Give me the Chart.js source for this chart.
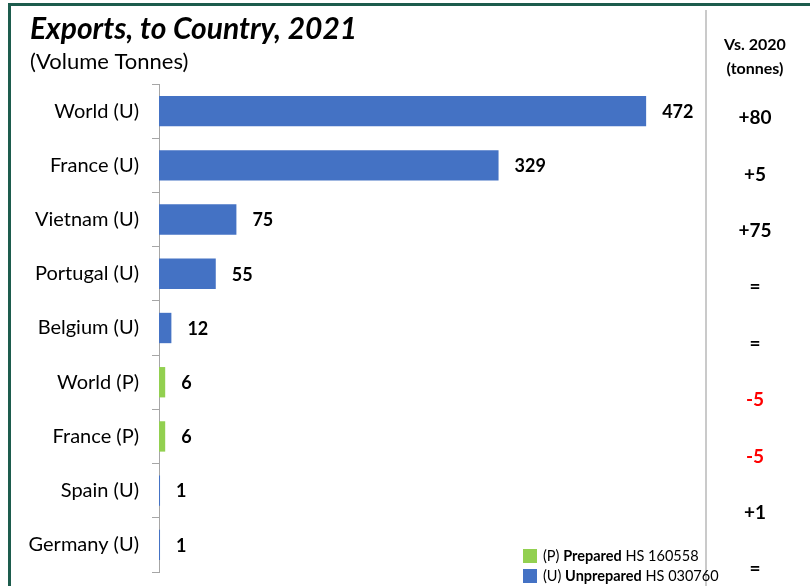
<!DOCTYPE html>
<html>
<head>
<meta charset="utf-8">
<script src="https://cdn.jsdelivr.net/npm/chart.js@4/dist/chart.umd.min.js"></script>
<style>
  html, body { margin: 0; padding: 0; background: #fff; overflow: hidden; }
  canvas { display: block; }
</style>
</head>
<body>
<canvas id="graphCanvas" width="810" height="586"></canvas>
<script>
var countries = ["World (U)", "France (U)", "Vietnam (U)", "Portugal (U)", "Belgium (U)",
                 "World (P)", "France (P)", "Spain (U)", "Germany (U)"];
var volumes = [472, 329, 75, 55, 12, 6, 6, 1, 1];
var kinds = ["U", "U", "U", "U", "U", "P", "P", "U", "U"];
var vs2020 = ["+80", "+5", "+75", "=", "=", "-5", "-5", "+1", "="];

var BLUE = "#4472C4";
var GREEN = "#92D050";
var FONT = "Lato, 'Open Sans', sans-serif";

var barColors = [];
for (var i in kinds) {
  barColors.push(kinds[i] == "P" ? GREEN : BLUE);
}

// frame, title, value labels, right column and legend
var decorations = {
  id: "decorations",
  afterDatasetsDraw: function(chart) {
    var ctx = chart.ctx;
    var meta = chart.getDatasetMeta(0);
    ctx.save();

    // value at the end of each bar
    ctx.fillStyle = "#000";
    ctx.font = "bold 18px " + FONT;
    ctx.textAlign = "left";
    ctx.textBaseline = "middle";
    meta.data.forEach(function(bar, idx) {
      ctx.fillText(String(volumes[idx]), bar.x + 16, bar.y + 1);
    });
    ctx.restore();
  },
  afterDraw: function(chart) {
    var ctx = chart.ctx;
    ctx.save();

    // outer frame
    ctx.strokeStyle = "#1D5C4D";
    ctx.lineWidth = 3;
    ctx.beginPath();
    ctx.moveTo(9.5, 600);
    ctx.lineTo(9.5, 4.5);
    ctx.lineTo(820, 4.5);
    ctx.stroke();

    // separator before the comparison column
    ctx.strokeStyle = "#CACACA";
    ctx.lineWidth = 2;
    ctx.beginPath();
    ctx.moveTo(706, 10);
    ctx.lineTo(706, 586);
    ctx.stroke();

    // title
    ctx.fillStyle = "#000";
    ctx.textAlign = "left";
    ctx.textBaseline = "alphabetic";
    ctx.font = "italic bold 30px " + FONT;
    ctx.fillText("Exports, to Country, 2021", 30, 39);
    ctx.font = "22px " + FONT;
    ctx.fillText("(Volume Tonnes)", 30, 69);

    // comparison column
    ctx.textAlign = "center";
    ctx.textBaseline = "middle";
    ctx.font = "bold 16px " + FONT;
    ctx.fillText("Vs. 2020", 755, 45);
    ctx.fillText("(tonnes)", 755, 69);
    ctx.font = "bold 19px " + FONT;
    for (var k = 0; k < vs2020.length; k++) {
      ctx.fillStyle = vs2020[k].charAt(0) == "-" ? "#FF0000" : "#000";
      ctx.fillText(vs2020[k], 755, 118 + k * 56.4);
    }

    // legend
    var items = [
      { color: GREEN, pre: "(P) ", bold: "Prepared", post: " HS 160558" },
      { color: BLUE, pre: "(U) ", bold: "Unprepared", post: " HS 030760" }
    ];
    ctx.textAlign = "left";
    items.forEach(function(it, n) {
      var y = 556 + n * 20;
      ctx.fillStyle = it.color;
      ctx.fillRect(523, y - 7, 14, 14);
      ctx.fillStyle = "#000";
      var x = 543;
      ctx.font = "14.5px " + FONT;
      ctx.fillText(it.pre, x, y);
      x += ctx.measureText(it.pre).width;
      ctx.font = "bold 14.5px " + FONT;
      ctx.fillText(it.bold, x, y);
      x += ctx.measureText(it.bold).width;
      ctx.font = "14.5px " + FONT;
      ctx.fillText(it.post, x, y);
    });
    ctx.restore();
  }
};

var canvas = document.getElementById("graphCanvas").getContext("2d");

var chart = new Chart(canvas, {
  type: "bar",
  data: {
    labels: countries,
    datasets: [{
      label: "Volume",
      backgroundColor: barColors,
      borderWidth: 0,
      data: volumes,
      categoryPercentage: 1,
      barPercentage: 0.56
    }]
  },
  options: {
    indexAxis: "y",
    responsive: false,
    animation: false,
    layout: { padding: { left: 10, top: 84, right: 104, bottom: 14 } },
    plugins: {
      legend: { display: false },
      tooltip: { enabled: false }
    },
    scales: {
      x: {
        display: false,
        min: 0,
        max: 530
      },
      y: {
        afterFit: function(scale) {
          scale.width = 149;
          scale.paddingTop = 0;
          scale.paddingBottom = 0;
        },
        grid: {
          offset: true,
          drawOnChartArea: false,
          drawTicks: true,
          tickLength: 7,
          color: "#A6A6A6"
        },
        border: { color: "#A6A6A6", width: 1 },
        ticks: {
          color: "#000",
          padding: 13,
          font: { family: FONT, size: 20 }
        }
      }
    }
  },
  plugins: [decorations]
});
</script>
</body>
</html>
